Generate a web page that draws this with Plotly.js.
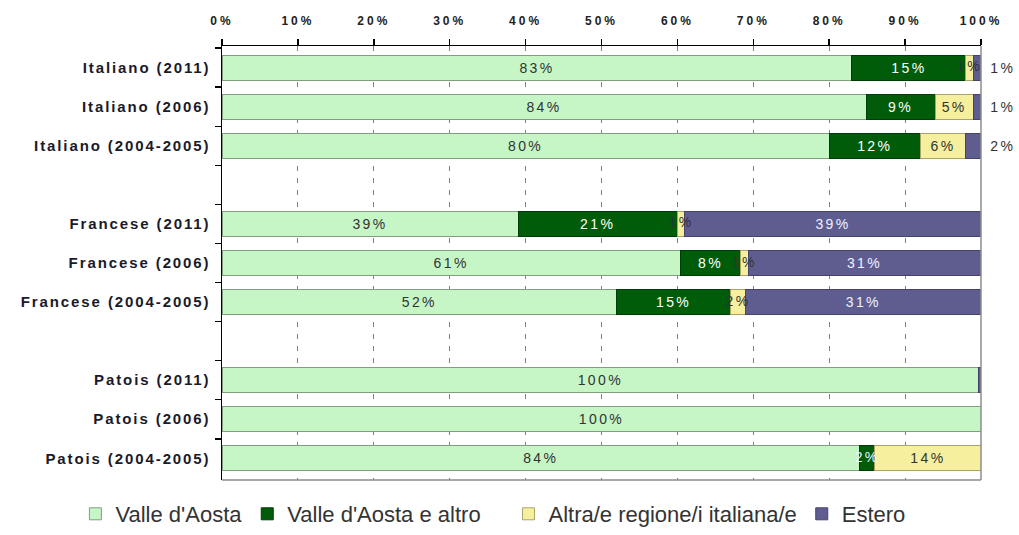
<!DOCTYPE html>
<html>
<head>
<meta charset="utf-8">
<script src="https://cdn.plot.ly/plotly-3.0.1.min.js"></script>
<style>
html,body{margin:0;padding:0;background:#fff;}
#chart{width:1019px;height:535px;}
.xtick text{letter-spacing:3px;}
.ytick text{letter-spacing:1.9px;}
.bartext{letter-spacing:2.4px;}
.textpoint text{letter-spacing:2.4px;}
</style>
</head>
<body>
<div id="chart"></div>
<script>
var categories = ["Italiano (2011)", "Italiano (2006)", "Italiano (2004-2005)", " ",
  "Francese (2011)", "Francese (2006)", "Francese (2004-2005)", "  ",
  "Patois (2011)", "Patois (2006)", "Patois (2004-2005)"];
var valleDAosta = [83, 84, 80, null, 39, 61, 52, null, 100, 100, 84];
var valleEAltro = [15, 9, 12, null, 21, 8, 15, null, 0, 0, 2];
var altraRegione = [1, 5, 6, null, 1, 1, 2, null, 0, 0, 14];
var estero = [1, 1, 2, null, 39, 31, 31, null, 0.3, 0, 0];
var seriesNames = ["Valle d'Aosta", "Valle d'Aosta e altro", "Altra/e regione/i italiana/e", "Estero"];

var colors = ['#c6f6c6', '#005c08', '#f6f09e', '#5f5d90'];
var lineColors = ['#7f9f7f', '#003d06', '#aaa266', '#45436e'];
var textColors = ['#333333', '#ffffff', '#333333', '#f0f0ff'];
var smallTextColors = ['#333333', '#e8f4ff', '#333333', '#333333'];
var legendGroups = ['legend', 'legend', 'legend2', 'legend2'];
var allSeries = [valleDAosta, valleEAltro, altraRegione, estero];
var SMALL = 3;

function isOutside(i, j) { return i === 3 && categories[j].indexOf('Italiano') === 0; }

var traces = allSeries.map(function (vals, i) {
  return {
    type: 'bar',
    orientation: 'h',
    name: seriesNames[i],
    legend: legendGroups[i],
    y: categories,
    x: vals,
    text: vals.map(function (v, j) {
      if (v === null || v < 1) return '';
      if (isOutside(i, j)) return '\u00a0' + v + '%';
      if (v < SMALL) return '';
      return v + '%';
    }),
    textposition: vals.map(function (v, j) { return isOutside(i, j) ? 'outside' : 'inside'; }),
    insidetextanchor: 'middle',
    textangle: 0,
    cliponaxis: false,
    constraintext: 'none',
    insidetextfont: {family: 'Liberation Sans, Arial, sans-serif', size: 14, color: textColors[i]},
    outsidetextfont: {family: 'Liberation Sans, Arial, sans-serif', size: 14, color: '#333333'},
    marker: {color: colors[i], line: {color: lineColors[i], width: 1}},
    hoverinfo: 'skip'
  };
});

// labels for slices too narrow to hold their text, centred on the slice (normalised like barnorm)
var smallX = [], smallY = [], smallText = [], smallColor = [];
categories.forEach(function (cat, j) {
  if (valleDAosta[j] === null) return;
  var total = 0;
  allSeries.forEach(function (s) { total += s[j]; });
  var cum = 0;
  allSeries.forEach(function (s, i) {
    var v = s[j];
    if (v >= 1 && v < SMALL && !isOutside(i, j)) {
      smallX.push((cum + v / 2) / total * 100);
      smallY.push(cat);
      smallText.push(v + '%');
      smallColor.push(smallTextColors[i]);
    }
    cum += v;
  });
});
traces.push({
  type: 'scatter',
  mode: 'text',
  x: smallX,
  y: smallY,
  text: smallText,
  textposition: 'middle center',
  textfont: {family: 'Liberation Sans, Arial, sans-serif', size: 14, color: smallColor},
  cliponaxis: false,
  showlegend: false,
  hoverinfo: 'skip'
});

var legendFont = {family: 'Liberation Sans, Arial, sans-serif', size: 22, color: '#333333'};

var layout = {
  width: 1019,
  height: 535,
  margin: {l: 222, r: 38, t: 46, b: 55},
  barmode: 'stack',
  barnorm: 'percent',
  bargap: 0.36,
  paper_bgcolor: '#ffffff',
  plot_bgcolor: '#ffffff',
  showlegend: true,
  xaxis: {
    side: 'top',
    range: [0, 100],
    dtick: 10,
    ticksuffix: '%',
    showline: true,
    linecolor: '#000000',
    linewidth: 1.5,
    ticks: 'outside',
    ticklen: 6,
    tickwidth: 1.5,
    tickcolor: '#000000',
    ticklabelstandoff: 9,
    showgrid: true,
    gridcolor: '#7f7f7f',
    gridwidth: 1,
    griddash: '5px,7px',
    zeroline: false,
    tickfont: {family: 'Liberation Sans, Arial, sans-serif', size: 12, weight: 'bold', color: '#222222'},
    fixedrange: true
  },
  yaxis: {
    type: 'category',
    autorange: 'reversed',
    showline: true,
    linecolor: '#000000',
    linewidth: 1.5,
    ticks: 'outside',
    tickson: 'boundaries',
    ticklen: 6,
    tickwidth: 1.5,
    tickcolor: '#000000',
    ticklabelstandoff: 7,
    showgrid: false,
    tickfont: {family: 'Liberation Sans, Arial, sans-serif', size: 15, weight: 'bold', color: '#1a1a2a'},
    fixedrange: true
  },
  legend: {
    orientation: 'h',
    xref: 'container',
    yref: 'container',
    x: 0.074,
    xanchor: 'left',
    y: 0,
    yanchor: 'bottom',
    font: legendFont,
    itemwidth: 30,
    traceorder: 'normal'
  },
  legend2: {
    orientation: 'h',
    xref: 'container',
    yref: 'container',
    x: 0.499,
    xanchor: 'left',
    y: 0,
    yanchor: 'bottom',
    font: legendFont,
    itemwidth: 30,
    traceorder: 'normal'
  },
  shapes: [
    {type: 'line', xref: 'paper', yref: 'paper', x0: 1, x1: 1, y0: 0, y1: 1, line: {color: '#8c8c8c', width: 1.5}, layer: 'above'},
    {type: 'line', xref: 'paper', yref: 'paper', x0: 0, x1: 1, y0: 0, y1: 0, line: {color: '#8c8c8c', width: 1.5}, layer: 'above'}
  ]
};

Plotly.newPlot('chart', traces, layout, {displayModeBar: false, staticPlot: true});
</script>
</body>
</html>
